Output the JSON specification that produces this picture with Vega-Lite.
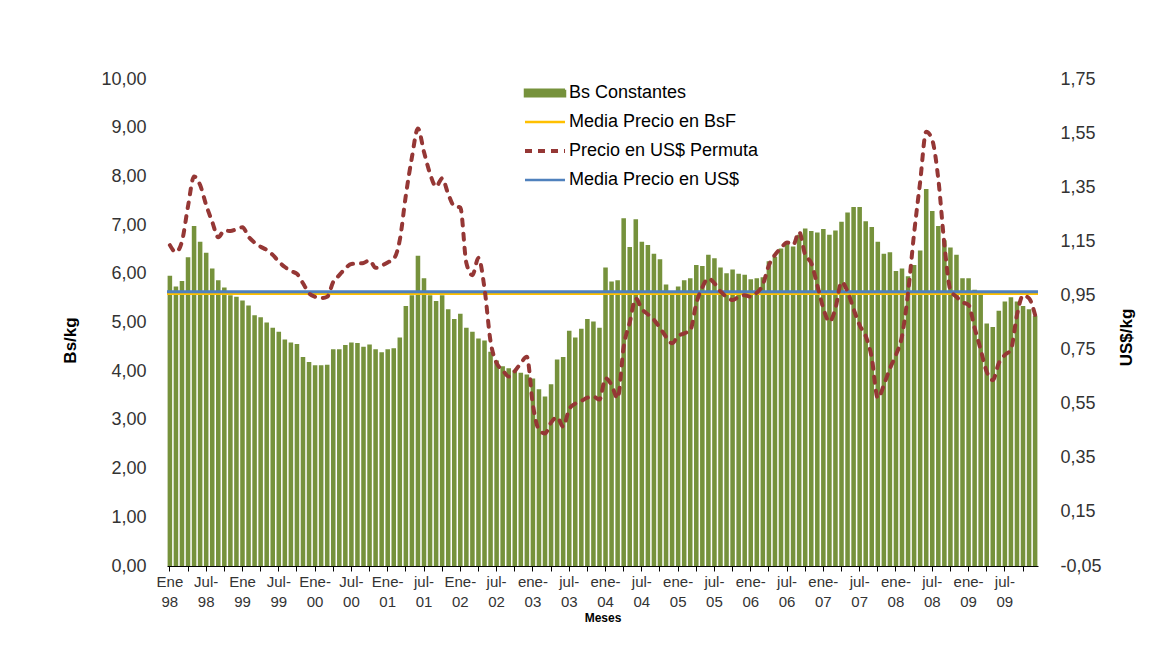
{
"$schema": "https://vega.github.io/schema/vega-lite/v6.json",
"width": 871, "height": 487,
"autosize": {"type": "none"},
"padding": {"left": 167, "top": 79, "right": 131, "bottom": 79},
"background": "white",
"config": {"view": {"stroke": null}, "font": "Liberation Sans"},
"data": {"values": [
{"mes":"Ene|98","bs":5.96,"usd":1.136},{"mes":"98-02","bs":5.74,"usd":1.11},{"mes":"98-03","bs":5.85,"usd":1.15},{"mes":"98-04","bs":6.34,"usd":1.28},{"mes":"98-05","bs":6.98,"usd":1.39},{"mes":"98-06","bs":6.66,"usd":1.358},
{"mes":"Jul-|98","bs":6.43,"usd":1.284},{"mes":"98-08","bs":6.11,"usd":1.222},{"mes":"98-09","bs":5.87,"usd":1.165},{"mes":"98-10","bs":5.72,"usd":1.19},{"mes":"98-11","bs":5.56,"usd":1.188},{"mes":"98-12","bs":5.53,"usd":1.195},
{"mes":"Ene|99","bs":5.45,"usd":1.202},{"mes":"99-02","bs":5.35,"usd":1.167},{"mes":"99-03","bs":5.15,"usd":1.145},{"mes":"99-04","bs":5.11,"usd":1.13},{"mes":"99-05","bs":5.0,"usd":1.118},{"mes":"99-06","bs":4.89,"usd":1.1},
{"mes":"Jul-|99","bs":4.81,"usd":1.075},{"mes":"99-08","bs":4.65,"usd":1.055},{"mes":"99-09","bs":4.59,"usd":1.04},{"mes":"99-10","bs":4.56,"usd":1.03},{"mes":"99-11","bs":4.29,"usd":0.995},{"mes":"99-12","bs":4.19,"usd":0.958},
{"mes":"Ene-|00","bs":4.12,"usd":0.945},{"mes":"00-02","bs":4.12,"usd":0.94},{"mes":"00-03","bs":4.13,"usd":0.945},{"mes":"00-04","bs":4.45,"usd":1.0},{"mes":"00-05","bs":4.45,"usd":1.025},{"mes":"00-06","bs":4.54,"usd":1.05},
{"mes":"Jul-|00","bs":4.59,"usd":1.066},{"mes":"00-08","bs":4.58,"usd":1.068},{"mes":"00-09","bs":4.5,"usd":1.07},{"mes":"00-10","bs":4.55,"usd":1.08},{"mes":"00-11","bs":4.45,"usd":1.052},{"mes":"00-12","bs":4.39,"usd":1.06},
{"mes":"Ene-|01","bs":4.45,"usd":1.072},{"mes":"01-02","bs":4.47,"usd":1.085},{"mes":"01-03","bs":4.69,"usd":1.155},{"mes":"01-04","bs":5.34,"usd":1.32},{"mes":"01-05","bs":5.56,"usd":1.46},{"mes":"01-06","bs":6.37,"usd":1.567},
{"mes":"jul-|01","bs":5.91,"usd":1.48},{"mes":"01-08","bs":5.56,"usd":1.4},{"mes":"01-09","bs":5.44,"usd":1.352},{"mes":"01-10","bs":5.56,"usd":1.383},{"mes":"01-11","bs":5.27,"usd":1.325},{"mes":"01-12","bs":5.07,"usd":1.28},
{"mes":"Ene-|02","bs":5.18,"usd":1.275},{"mes":"02-02","bs":4.89,"usd":1.07},{"mes":"02-03","bs":4.81,"usd":1.025},{"mes":"02-04","bs":4.67,"usd":1.089},{"mes":"02-05","bs":4.63,"usd":0.976},{"mes":"02-06","bs":4.4,"usd":0.78},
{"mes":"jul-|02","bs":4.22,"usd":0.7},{"mes":"02-08","bs":4.1,"usd":0.674},{"mes":"02-09","bs":4.06,"usd":0.65},{"mes":"02-10","bs":4.02,"usd":0.67},{"mes":"02-11","bs":3.97,"usd":0.7},{"mes":"02-12","bs":3.93,"usd":0.723},
{"mes":"ene-|03","bs":3.85,"usd":0.545},{"mes":"03-02","bs":3.63,"usd":0.453},{"mes":"03-03","bs":3.48,"usd":0.44},{"mes":"03-04","bs":3.73,"usd":0.48},{"mes":"03-05","bs":4.24,"usd":0.5},{"mes":"03-06","bs":4.29,"usd":0.465},
{"mes":"jul-|03","bs":4.83,"usd":0.53},{"mes":"03-08","bs":4.69,"usd":0.55},{"mes":"03-09","bs":4.87,"usd":0.56},{"mes":"03-10","bs":5.07,"usd":0.572},{"mes":"03-11","bs":5.02,"usd":0.576},{"mes":"03-12","bs":4.89,"usd":0.565},
{"mes":"ene-|04","bs":6.13,"usd":0.644},{"mes":"04-02","bs":5.84,"usd":0.619},{"mes":"04-03","bs":5.87,"usd":0.57},{"mes":"04-04","bs":7.14,"usd":0.76},{"mes":"04-05","bs":6.55,"usd":0.85},{"mes":"04-06","bs":7.12,"usd":0.939},
{"mes":"jul-|04","bs":6.66,"usd":0.9},{"mes":"04-08","bs":6.59,"usd":0.88},{"mes":"04-09","bs":6.41,"usd":0.86},{"mes":"04-10","bs":6.3,"usd":0.83},{"mes":"04-11","bs":5.78,"usd":0.797},{"mes":"04-12","bs":5.63,"usd":0.773},
{"mes":"ene-|05","bs":5.74,"usd":0.8},{"mes":"05-02","bs":5.87,"usd":0.81},{"mes":"05-03","bs":5.91,"usd":0.82},{"mes":"05-04","bs":6.18,"usd":0.92},{"mes":"05-05","bs":6.16,"usd":0.98},{"mes":"05-06","bs":6.39,"usd":1.013},
{"mes":"jul-|05","bs":6.32,"usd":0.995},{"mes":"05-08","bs":6.13,"usd":0.965},{"mes":"05-09","bs":6.01,"usd":0.945},{"mes":"05-10","bs":6.09,"usd":0.933},{"mes":"05-11","bs":6.0,"usd":0.945},{"mes":"05-12","bs":5.98,"usd":0.951},
{"mes":"ene-|06","bs":5.89,"usd":0.945},{"mes":"06-02","bs":5.91,"usd":0.96},{"mes":"06-03","bs":5.93,"usd":0.99},{"mes":"06-04","bs":6.26,"usd":1.062},{"mes":"06-05","bs":6.35,"usd":1.1},{"mes":"06-06","bs":6.52,"usd":1.125},
{"mes":"jul-|06","bs":6.67,"usd":1.146},{"mes":"06-08","bs":6.56,"usd":1.136},{"mes":"06-09","bs":6.8,"usd":1.185},{"mes":"06-10","bs":6.93,"usd":1.1},{"mes":"06-11","bs":6.88,"usd":1.07},{"mes":"06-12","bs":6.85,"usd":0.988},
{"mes":"ene-|07","bs":6.92,"usd":0.902},{"mes":"07-02","bs":6.8,"usd":0.853},{"mes":"07-03","bs":6.89,"usd":0.902},{"mes":"07-04","bs":7.07,"usd":1.0},{"mes":"07-05","bs":7.26,"usd":0.964},{"mes":"07-06","bs":7.37,"usd":0.9},
{"mes":"jul-|07","bs":7.37,"usd":0.84},{"mes":"07-08","bs":7.08,"usd":0.8},{"mes":"07-09","bs":6.96,"usd":0.72},{"mes":"07-10","bs":6.66,"usd":0.57},{"mes":"07-11","bs":6.41,"usd":0.619},{"mes":"07-12","bs":6.44,"usd":0.68},
{"mes":"ene-|08","bs":6.06,"usd":0.73},{"mes":"08-02","bs":6.11,"usd":0.8},{"mes":"08-03","bs":5.95,"usd":0.96},{"mes":"08-04","bs":6.18,"usd":1.18},{"mes":"08-05","bs":6.48,"usd":1.37},{"mes":"08-06","bs":7.74,"usd":1.555},
{"mes":"jul-|08","bs":7.29,"usd":1.524},{"mes":"08-08","bs":6.98,"usd":1.38},{"mes":"08-09","bs":6.69,"usd":1.14},{"mes":"08-10","bs":6.54,"usd":0.97},{"mes":"08-11","bs":6.39,"usd":0.945},{"mes":"08-12","bs":5.91,"usd":0.925},
{"mes":"ene-|09","bs":5.91,"usd":0.915},{"mes":"09-02","bs":5.67,"usd":0.83},{"mes":"09-03","bs":5.6,"usd":0.75},{"mes":"09-04","bs":4.98,"usd":0.668},{"mes":"09-05","bs":4.91,"usd":0.637},{"mes":"09-06","bs":5.24,"usd":0.7},
{"mes":"jul-|09","bs":5.43,"usd":0.73},{"mes":"09-08","bs":5.52,"usd":0.75},{"mes":"09-09","bs":5.43,"usd":0.878},{"mes":"09-10","bs":5.34,"usd":0.95},{"mes":"09-11","bs":5.27,"usd":0.939},{"mes":"09-12","bs":5.14,"usd":0.878}
]},
"layer": [
 {"layer": [
  {"mark": {"type": "bar", "color": "#76923C"},
   "encoding": {
    "x": {"field": "mes", "type": "ordinal", "sort": null,
      "scale": {"paddingInner": 0.25, "paddingOuter": 0.1},
      "axis": {
        "values": ["Ene|98","98-04","Jul-|98","98-10","Ene|99","99-04","Jul-|99","99-10","Ene-|00","00-04","Jul-|00","00-10","Ene-|01","01-04","jul-|01","01-10","Ene-|02","02-04","jul-|02","02-10","ene-|03","03-04","jul-|03","03-10","ene-|04","04-04","jul-|04","04-10","ene-|05","05-04","jul-|05","05-10","ene-|06","06-04","jul-|06","06-10","ene-|07","07-04","jul-|07","07-10","ene-|08","08-04","jul-|08","08-10","ene-|09","09-04","jul-|09","09-10"],
        "labelExpr": "indexof(datum.value, '|') >= 0 ? split(datum.value, '|') : ''",
        "labelAngle": 0, "labelFontSize": 15, "labelColor": "#333333", "labelLineHeight": 20,
        "labelBaseline": "top", "labelPadding": 3, "labelOverlap": false, "labelBound": false,
        "tickSize": 5, "tickColor": "#000000", "domainColor": "#000000", "grid": false,
        "title": "Meses", "titleFontSize": 12, "titleFontWeight": "bold", "titleColor": "#000000",
        "titleY": 51, "titleBaseline": "middle"
      }},
    "y": {"field": "bs", "type": "quantitative", "scale": {"domain": [0, 10], "nice": false},
      "axis": {"orient": "left", "values": [0,1,2,3,4,5,6,7,8,9,10],
        "labelExpr": "replace(format(datum.value, '.2f'), '.', ',')",
        "domain": false, "ticks": false, "grid": false, "labelFontSize": 18, "labelColor": "#333333",
        "labelPadding": 21, "title": "Bs/kg", "titleFontSize": 17, "titleFontWeight": "bold", "titleColor": "#000000",
        "titleAngle": 270, "titleX": -97, "titleY": 261, "titleAlign": "center", "titleBaseline": "middle"}},
    "color": {"datum": "Bs Constantes",
      "scale": {"domain": ["Bs Constantes", "Media Precio en BsF", "Precio en US$ Permuta", "Media Precio en US$"],
                "range": ["#76923C", "#FFC000", "#953735", "#4F81BD"]},
      "legend": {"orient": "none", "legendX": 369, "legendY": 5, "title": null, "padding": 0,
        "labelFontSize": 18, "labelFont": "Liberation Sans", "labelColor": "#000000", "labelLimit": 500,
        "symbolSize": 1600, "rowPadding": 11, "labelOffset": 15, "symbolStrokeWidth": 3,
        "encode": {"symbols": {"update": {
          "shape": {"signal": "datum.value === 'Bs Constantes' ? 'M-1,-0.16H1V0.16H-1Z' : 'stroke'"},
          "fill": {"signal": "datum.value === 'Bs Constantes' ? '#76923C' : 'transparent'"},
          "stroke": {"signal": "datum.value === 'Bs Constantes' ? 'transparent' : (datum.value === 'Media Precio en BsF' ? '#FFC000' : (datum.value === 'Precio en US$ Permuta' ? '#953735' : '#4F81BD'))"},
          "strokeDash": {"signal": "datum.value === 'Precio en US$ Permuta' ? [7,6] : [1,0]"},
          "strokeWidth": {"signal": "datum.value === 'Precio en US$ Permuta' ? 4 : 2.5"},
          "opacity": {"value": 1}
        }}}}
    }}},
  {"data": {"values": [{"media": 5.59}]},
   "mark": {"type": "rule", "strokeWidth": 2.5},
   "encoding": {"y": {"field": "media", "type": "quantitative"}, "color": {"datum": "Media Precio en BsF"}}}
 ]},
 {"layer": [
  {"data": {"values": [{"media": 0.964}]},
   "mark": {"type": "rule", "strokeWidth": 3},
   "encoding": {
    "y": {"field": "media", "type": "quantitative", "scale": {"domain": [-0.05, 1.75], "nice": false},
      "axis": {"orient": "right", "values": [-0.05,0.15,0.35,0.55,0.75,0.95,1.15,1.35,1.55,1.75],
        "labelExpr": "replace(replace(format(datum.value, '.2f'), '.', ','), '\u2212', '-')",
        "domain": false, "ticks": false, "grid": false, "labelFontSize": 18, "labelColor": "#333333",
        "labelPadding": 22, "title": "US$/kg", "titleFontSize": 17, "titleFontWeight": "bold", "titleColor": "#000000",
        "titleAngle": 270, "titleX": 88, "titleY": 258, "titleAlign": "center", "titleBaseline": "middle"}},
    "color": {"datum": "Media Precio en US$"}}},
  {"mark": {"type": "line", "strokeDash": [6, 8], "strokeWidth": 4, "strokeCap": "round", "interpolate": "monotone"},
   "encoding": {
    "x": {"field": "mes", "type": "ordinal", "sort": null},
    "y": {"field": "usd", "type": "quantitative"},
    "color": {"datum": "Precio en US$ Permuta"}}}
 ]}
],
"resolve": {"scale": {"y": "independent"}}
}
